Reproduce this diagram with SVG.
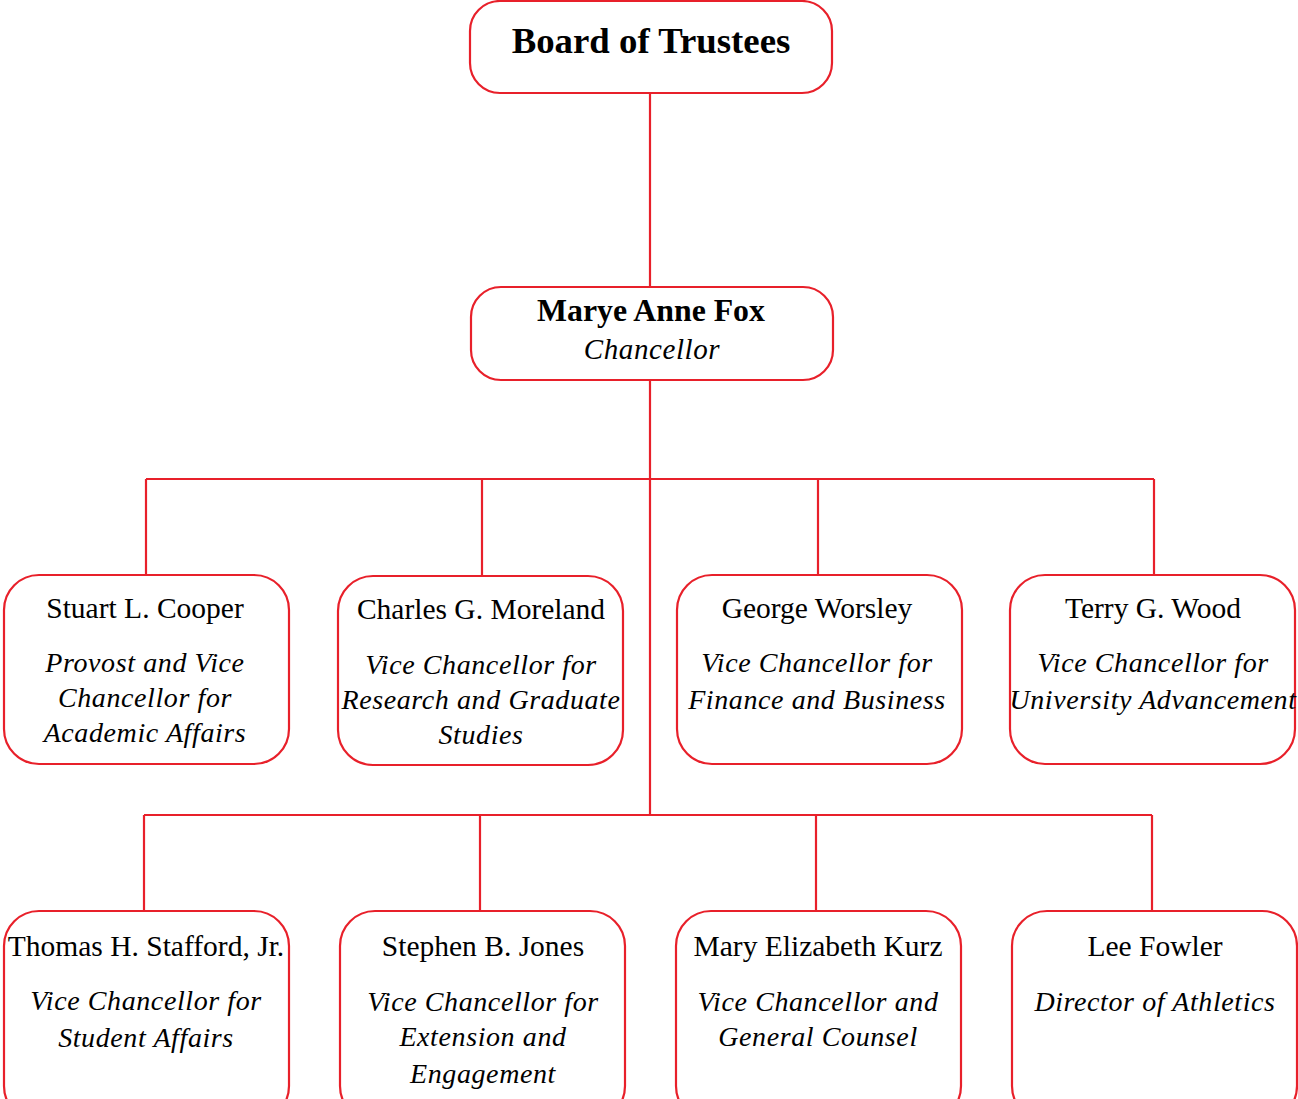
<svg xmlns="http://www.w3.org/2000/svg" width="1298" height="1099" viewBox="0 0 1298 1099">
<style>
.box{fill:#fff;stroke:#e8202a;stroke-width:2.2}
.con{fill:none;stroke:#e8202a;stroke-width:2.2}
text{font-family:"Liberation Serif","Times New Roman",serif;fill:#000;text-anchor:middle}
.nm{font-size:29.5px}
.tt{font-size:28px;font-style:italic;letter-spacing:0.6px}
</style>
<rect width="1298" height="1099" fill="#fff"/>
<g id="connectors">
<path class="con" d="M650,93V287M650,380V815M146,479H1154M146,479V575M482,479V576M818,479V575M1154,479V575M144,815H1152M144,815V911M480,815V911M816,815V911M1152,815V911"/>
</g>
<g id="board"><rect class="box" x="470" y="1" width="362" height="92" rx="30"/><text x="651" y="53" font-size="36.8" font-weight="bold">Board of Trustees</text></g>
<g id="chancellor"><rect class="box" x="471" y="287" width="362" height="93" rx="30"/><text x="651" y="321" font-size="31.8" font-weight="bold">Marye Anne Fox</text><text class="tt" x="652" y="359" style="font-size:29px">Chancellor</text></g>
<g id="cooper"><rect class="box" x="4" y="575" width="285" height="189" rx="35"/><text class="nm" x="145" y="618">Stuart L. Cooper</text><text class="tt" x="145" y="672">Provost and Vice</text><text class="tt" x="145" y="707">Chancellor for</text><text class="tt" x="145" y="742">Academic Affairs</text></g>
<g id="moreland"><rect class="box" x="338" y="576" width="285" height="189" rx="35"/><text class="nm" x="481" y="619">Charles G. Moreland</text><text class="tt" x="481" y="674">Vice Chancellor for</text><text class="tt" x="481" y="709">Research and Graduate</text><text class="tt" x="481" y="744">Studies</text></g>
<g id="worsley"><rect class="box" x="677" y="575" width="285" height="189" rx="35"/><text class="nm" x="817" y="618">George Worsley</text><text class="tt" x="817" y="672">Vice Chancellor for</text><text class="tt" x="817" y="709">Finance and Business</text></g>
<g id="wood"><rect class="box" x="1010" y="575" width="285" height="189" rx="35"/><text class="nm" x="1153" y="618">Terry G. Wood</text><text class="tt" x="1153" y="672">Vice Chancellor for</text><text class="tt" x="1153" y="709">University Advancement</text></g>
<g id="stafford"><rect class="box" x="4" y="911" width="285" height="210" rx="35"/><text class="nm" x="146" y="956">Thomas H. Stafford, Jr.</text><text class="tt" x="146" y="1010">Vice Chancellor for</text><text class="tt" x="146" y="1047">Student Affairs</text></g>
<g id="jones"><rect class="box" x="340" y="911" width="285" height="210" rx="35"/><text class="nm" x="483" y="956">Stephen B. Jones</text><text class="tt" x="483" y="1011">Vice Chancellor for</text><text class="tt" x="483" y="1046">Extension and</text><text class="tt" x="483" y="1083">Engagement</text></g>
<g id="kurz"><rect class="box" x="676" y="911" width="285" height="210" rx="35"/><text class="nm" x="818" y="956">Mary Elizabeth Kurz</text><text class="tt" x="818" y="1011">Vice Chancellor and</text><text class="tt" x="818" y="1046">General Counsel</text></g>
<g id="fowler"><rect class="box" x="1012" y="911" width="285" height="210" rx="35"/><text class="nm" x="1155" y="956">Lee Fowler</text><text class="tt" x="1155" y="1011">Director of Athletics</text></g>
</svg>
